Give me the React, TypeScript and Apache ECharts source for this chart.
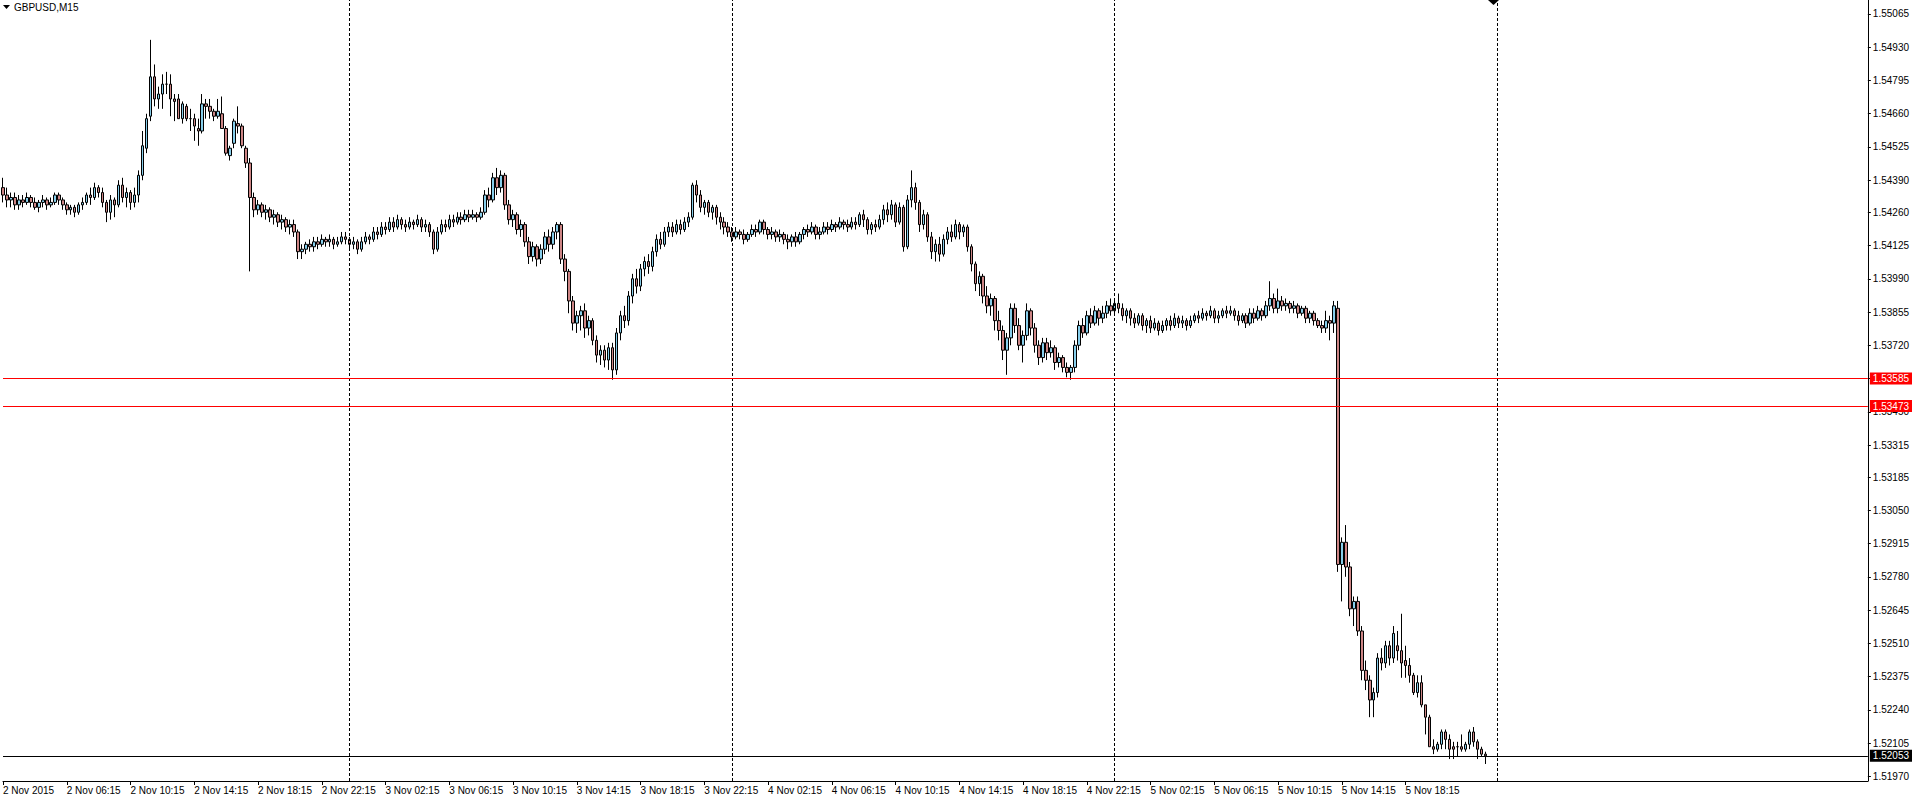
import React, { useEffect, useRef } from "react";
import * as echarts from "echarts";

// ---- DATA ----
// Each candle: [open, close, low, high]
const day1Nov2: number[][] = [
  [1.5436,1.5433,1.5430,1.5440],[1.5433,1.5431,1.5428,1.5436],[1.5431,1.5432,1.5428,1.5434],[1.5432,1.5429,1.5427,1.5434],
  [1.5429,1.5431,1.5427,1.5433],[1.5431,1.5430,1.5428,1.5433],[1.5430,1.5432,1.5429,1.5434],[1.5432,1.5430,1.5428,1.5433],
  [1.5430,1.5428,1.5427,1.5432],[1.5428,1.5430,1.5426,1.5431],[1.5430,1.5431,1.5428,1.5433],[1.5431,1.5429,1.5427,1.5432],
  [1.5429,1.5430,1.5428,1.5432],[1.5430,1.5433,1.5429,1.5434],[1.5433,1.5431,1.5429,1.5434],[1.5431,1.5429,1.5427,1.5432],
  [1.5429,1.5427,1.5425,1.5430],[1.5427,1.5428,1.5425,1.5429],[1.5428,1.5426,1.5424,1.5429],[1.5426,1.5429,1.5425,1.5430],
  [1.5429,1.5430,1.5427,1.5432],[1.5430,1.5433,1.5429,1.5434],[1.5433,1.5432,1.5429,1.5436],[1.5432,1.5436,1.5431,1.5438],
  [1.5436,1.5434,1.5432,1.5437],[1.5434,1.5430,1.5428,1.5436],[1.5430,1.5426,1.5422,1.5431],[1.5426,1.5431,1.5423,1.5433],
  [1.5431,1.5429,1.5424,1.5432],[1.5429,1.5437,1.5428,1.5439],[1.5437,1.5432,1.5430,1.5440],[1.5432,1.5434,1.5428,1.5436],
  [1.5434,1.5430,1.5427,1.5435],[1.5430,1.5433,1.5428,1.5436],[1.5433,1.5441,1.5430,1.5443],[1.5441,1.5453,1.5439,1.5459],
  [1.5452,1.5464,1.5450,1.5466],[1.5465,1.5481,1.5463,1.5496],[1.5481,1.5472,1.5469,1.5486],[1.5472,1.5474,1.5468,1.5477],
  [1.5474,1.5478,1.5468,1.5482],[1.5478,1.5478,1.5474,1.5483],[1.5478,1.5472,1.5465,1.5482],[1.5472,1.5471,1.5463,1.5474],
  [1.5472,1.5464,1.5464,1.5474],[1.5464,1.5470,1.5462,1.5471],[1.5469,1.5464,1.5463,1.5470],[1.5464,1.5464,1.5459,1.5468],
  [1.5464,1.5461,1.5455,1.5466],[1.5460,1.5459,1.5453,1.5464],[1.5459,1.5470,1.5458,1.5474],[1.5470,1.5469,1.5464,1.5472],
  [1.5469,1.5467,1.5464,1.5472],[1.5467,1.5465,1.5463,1.5468],[1.5465,1.5467,1.5464,1.5472],[1.5466,1.5460,1.5460,1.5473],
  [1.5460,1.5450,1.5449,1.5461],[1.5449,1.5452,1.5447,1.5453],[1.5454,1.5463,1.5452,1.5464],[1.5462,1.5461,1.5458,1.5469],
  [1.5461,1.5453,1.5452,1.5462],[1.5452,1.5446,1.5444,1.5453],[1.5446,1.5432,1.5402,1.5448],[1.5432,1.5427,1.5424,1.5434],
  [1.5427,1.5429,1.5425,1.5431],[1.5429,1.5426,1.5424,1.5430],[1.5426,1.5427,1.5423,1.5429],[1.5427,1.5424,1.5422,1.5428],
  [1.5424,1.5425,1.5421,1.5427],[1.5425,1.5422,1.5420,1.5426],[1.5422,1.5423,1.5419,1.5425],[1.5423,1.5420,1.5418,1.5424],
  [1.5420,1.5421,1.5417,1.5423],[1.5421,1.5418,1.5416,1.5423],[1.5418,1.5410,1.5407,1.5419],[1.5410,1.5411,1.5407,1.5413],
  [1.5411,1.5413,1.5409,1.5414],[1.5413,1.5412,1.5410,1.5415],[1.5412,1.5414,1.5410,1.5416],[1.5414,1.5413,1.5411,1.5416],
  [1.5413,1.5415,1.5412,1.5417],[1.5415,1.5414,1.5412,1.5416],[1.5414,1.5415,1.5412,1.5417],[1.5415,1.5413,1.5411,1.5416],
  [1.5413,1.5414,1.5412,1.5416],[1.5414,1.5416,1.5413,1.5418],[1.5416,1.5415,1.5413,1.5418],
];
const day2Nov3: number[][] = [
  [1.5415,1.5413,1.5411,1.5416],[1.5413,1.5414,1.5411,1.5416],[1.5414,1.5411,1.5409,1.5415],[1.5411,1.5414,1.5410,1.5416],
  [1.5414,1.5416,1.5413,1.5418],[1.5416,1.5415,1.5413,1.5417],[1.5415,1.5418,1.5414,1.5420],[1.5418,1.5417,1.5415,1.5420],
  [1.5417,1.5420,1.5416,1.5422],[1.5420,1.5419,1.5417,1.5422],[1.5419,1.5422,1.5418,1.5424],[1.5422,1.5420,1.5418,1.5424],
  [1.5420,1.5423,1.5419,1.5425],[1.5423,1.5421,1.5419,1.5424],[1.5421,1.5420,1.5418,1.5423],[1.5420,1.5422,1.5419,1.5424],
  [1.5422,1.5421,1.5419,1.5423],[1.5421,1.5423,1.5420,1.5425],[1.5423,1.5420,1.5418,1.5424],[1.5420,1.5421,1.5418,1.5423],
  [1.5421,1.5418,1.5416,1.5422],[1.5418,1.5411,1.5409,1.5419],[1.5411,1.5418,1.5410,1.5420],[1.5418,1.5421,1.5417,1.5423],
  [1.5421,1.5420,1.5418,1.5423],[1.5420,1.5423,1.5419,1.5425],[1.5423,1.5422,1.5420,1.5425],[1.5422,1.5424,1.5421,1.5426],
  [1.5424,1.5423,1.5421,1.5426],[1.5423,1.5425,1.5422,1.5427],[1.5425,1.5424,1.5422,1.5427],[1.5424,1.5425,1.5423,1.5427],
  [1.5425,1.5424,1.5422,1.5426],[1.5424,1.5426,1.5423,1.5428],[1.5426,1.5433,1.5425,1.5435],[1.5433,1.5431,1.5428,1.5436],
  [1.5431,1.5440,1.5430,1.5442],[1.5440,1.5436,1.5433,1.5444],[1.5436,1.5441,1.5434,1.5443],[1.5441,1.5429,1.5427,1.5442],
  [1.5429,1.5423,1.5421,1.5431],[1.5423,1.5425,1.5420,1.5427],[1.5425,1.5419,1.5417,1.5426],[1.5419,1.5421,1.5416,1.5423],
  [1.5421,1.5414,1.5412,1.5422],[1.5414,1.5408,1.5405,1.5416],[1.5408,1.5412,1.5406,1.5414],[1.5412,1.5407,1.5404,1.5413],
  [1.5407,1.5411,1.5405,1.5413],[1.5411,1.5416,1.5409,1.5418],[1.5416,1.5413,1.5410,1.5419],[1.5413,1.5418,1.5411,1.5420],
  [1.5418,1.5421,1.5415,1.5422],[1.5421,1.5407,1.5405,1.5422],[1.5407,1.5402,1.5398,1.5409],[1.5402,1.5390,1.5385,1.5403],
  [1.5390,1.5381,1.5378,1.5392],[1.5381,1.5384,1.5377,1.5386],[1.5384,1.5386,1.5378,1.5388],[1.5386,1.5379,1.5375,1.5389],
  [1.5379,1.5382,1.5376,1.5384],[1.5382,1.5374,1.5372,1.5383],[1.5374,1.5368,1.5365,1.5376],[1.5368,1.5370,1.5364,1.5372],
  [1.5370,1.5366,1.5363,1.5372],[1.5366,1.5371,1.5362,1.5373],[1.5371,1.5362,1.5358,1.5373],[1.5362,1.5377,1.5360,1.5379],
  [1.5377,1.5384,1.5374,1.5386],[1.5384,1.5382,1.5379,1.5388],[1.5382,1.5392,1.5380,1.5394],[1.5392,1.5399,1.5389,1.5401],
  [1.5399,1.5396,1.5393,1.5403],[1.5396,1.5403,1.5394,1.5405],[1.5403,1.5406,1.5400,1.5408],[1.5406,1.5404,1.5401,1.5409],
  [1.5404,1.5410,1.5402,1.5412],[1.5410,1.5415,1.5408,1.5417],[1.5415,1.5413,1.5411,1.5418],[1.5413,1.5418,1.5412,1.5420],
  [1.5418,1.5420,1.5416,1.5422],[1.5420,1.5418,1.5416,1.5422],[1.5418,1.5421,1.5417,1.5423],[1.5421,1.5419,1.5417,1.5423],
  [1.5419,1.5422,1.5418,1.5424],[1.5422,1.5424,1.5420,1.5426],[1.5424,1.5437,1.5423,1.5438],[1.5437,1.5433,1.5430,1.5439],
  [1.5433,1.5428,1.5426,1.5435],[1.5428,1.5430,1.5425,1.5431],[1.5430,1.5426,1.5424,1.5431],[1.5426,1.5428,1.5423,1.5429],
  [1.5428,1.5424,1.5421,1.5429],[1.5424,1.5422,1.5419,1.5426],[1.5422,1.5420,1.5417,1.5424],[1.5420,1.5418,1.5416,1.5422],
];
const day3Nov4: number[][] = [
  [1.5418,1.5416,1.5414,1.5420],[1.5416,1.5418,1.5415,1.5420],[1.5418,1.5417,1.5415,1.5419],[1.5417,1.5415,1.5413,1.5419],
  [1.5415,1.5417,1.5414,1.5418],[1.5417,1.5419,1.5416,1.5421],[1.5419,1.5418,1.5416,1.5421],[1.5418,1.5422,1.5417,1.5423],
  [1.5422,1.5419,1.5417,1.5423],[1.5419,1.5417,1.5415,1.5420],[1.5417,1.5418,1.5415,1.5420],[1.5418,1.5416,1.5414,1.5419],
  [1.5416,1.5417,1.5414,1.5419],[1.5417,1.5415,1.5413,1.5418],[1.5415,1.5414,1.5411,1.5417],[1.5414,1.5416,1.5412,1.5417],
  [1.5416,1.5414,1.5412,1.5418],[1.5414,1.5417,1.5413,1.5418],[1.5417,1.5419,1.5415,1.5420],[1.5419,1.5418,1.5416,1.5421],
  [1.5418,1.5420,1.5417,1.5422],[1.5420,1.5417,1.5415,1.5421],[1.5417,1.5418,1.5415,1.5420],[1.5418,1.5420,1.5417,1.5422],
  [1.5420,1.5419,1.5417,1.5422],[1.5419,1.5421,1.5418,1.5423],[1.5421,1.5420,1.5418,1.5422],[1.5420,1.5422,1.5419,1.5424],
  [1.5422,1.5421,1.5419,1.5423],[1.5421,1.5420,1.5418,1.5423],[1.5420,1.5422,1.5419,1.5424],[1.5422,1.5421,1.5419,1.5424],
  [1.5421,1.5425,1.5420,1.5426],[1.5425,1.5423,1.5420,1.5427],[1.5423,1.5419,1.5417,1.5424],[1.5419,1.5421,1.5417,1.5422],
  [1.5421,1.5420,1.5418,1.5423],[1.5420,1.5423,1.5419,1.5425],[1.5423,1.5427,1.5421,1.5429],[1.5427,1.5425,1.5422,1.5430],
  [1.5425,1.5429,1.5423,1.5431],[1.5429,1.5422,1.5420,1.5430],[1.5422,1.5428,1.5421,1.5430],[1.5428,1.5412,1.5410,1.5429],
  [1.5412,1.5431,1.5411,1.5433],[1.5431,1.5436,1.5428,1.5443],[1.5436,1.5430,1.5427,1.5438],[1.5430,1.5421,1.5418,1.5431],
  [1.5421,1.5425,1.5419,1.5427],[1.5425,1.5416,1.5414,1.5426],[1.5416,1.5410,1.5407,1.5418],[1.5410,1.5413,1.5406,1.5415],
  [1.5413,1.5409,1.5406,1.5416],[1.5409,1.5415,1.5408,1.5417],[1.5415,1.5418,1.5413,1.5420],[1.5418,1.5416,1.5414,1.5421],
  [1.5416,1.5421,1.5415,1.5423],[1.5421,1.5418,1.5415,1.5422],[1.5418,1.5420,1.5416,1.5421],[1.5420,1.5412,1.5410,1.5421],
  [1.5412,1.5405,1.5402,1.5413],[1.5405,1.5397,1.5394,1.5406],[1.5397,1.5400,1.5392,1.5402],[1.5400,1.5392,1.5389,1.5401],
  [1.5392,1.5388,1.5385,1.5396],[1.5388,1.5391,1.5384,1.5393],[1.5391,1.5382,1.5378,1.5392],[1.5382,1.5378,1.5374,1.5386],
  [1.5378,1.5370,1.5366,1.5380],[1.5370,1.5375,1.5360,1.5377],[1.5375,1.5387,1.5372,1.5389],[1.5387,1.5380,1.5377,1.5389],
  [1.5380,1.5372,1.5370,1.5383],[1.5372,1.5376,1.5365,1.5378],[1.5376,1.5386,1.5374,1.5389],[1.5386,1.5379,1.5376,1.5387],
  [1.5379,1.5372,1.5369,1.5381],[1.5372,1.5367,1.5364,1.5374],[1.5367,1.5373,1.5365,1.5375],[1.5373,1.5369,1.5366,1.5375],
  [1.5369,1.5371,1.5367,1.5374],[1.5371,1.5365,1.5362,1.5372],[1.5365,1.5367,1.5363,1.5369],[1.5367,1.5363,1.5361,1.5368],
  [1.5363,1.5361,1.5359,1.5365],[1.5361,1.5363,1.5358,1.5364],[1.5363,1.5372,1.5361,1.5374],[1.5372,1.5380,1.5370,1.5382],
  [1.5380,1.5377,1.5375,1.5383],[1.5377,1.5384,1.5376,1.5386],[1.5384,1.5381,1.5379,1.5387],[1.5381,1.5386,1.5380,1.5388],
  [1.5386,1.5383,1.5380,1.5387],[1.5383,1.5385,1.5381,1.5388],[1.5385,1.5388,1.5383,1.5390],[1.5388,1.5386,1.5384,1.5391],
];
const day4Nov5: number[][] = [
  [1.5386,1.5389,1.5384,1.5391],[1.5389,1.5387,1.5385,1.5393],[1.5387,1.5384,1.5382,1.5389],[1.5384,1.5386,1.5381,1.5387],
  [1.5386,1.5383,1.5380,1.5387],[1.5383,1.5381,1.5379,1.5385],[1.5381,1.5384,1.5380,1.5385],[1.5384,1.5380,1.5378,1.5385],
  [1.5380,1.5382,1.5377,1.5383],[1.5382,1.5379,1.5377,1.5384],[1.5379,1.5381,1.5378,1.5383],[1.5381,1.5378,1.5376,1.5382],
  [1.5378,1.5380,1.5377,1.5382],[1.5380,1.5382,1.5378,1.5383],[1.5382,1.5380,1.5378,1.5384],[1.5380,1.5383,1.5379,1.5385],
  [1.5383,1.5381,1.5379,1.5384],[1.5381,1.5382,1.5379,1.5384],[1.5382,1.5380,1.5378,1.5383],[1.5380,1.5382,1.5379,1.5384],
  [1.5382,1.5384,1.5381,1.5385],[1.5384,1.5383,1.5381,1.5386],[1.5383,1.5385,1.5382,1.5387],[1.5385,1.5384,1.5382,1.5386],
  [1.5384,1.5386,1.5383,1.5388],[1.5386,1.5383,1.5381,1.5387],[1.5383,1.5384,1.5381,1.5386],[1.5384,1.5386,1.5383,1.5387],
  [1.5386,1.5385,1.5383,1.5388],[1.5385,1.5386,1.5384,1.5388],[1.5386,1.5384,1.5382,1.5387],[1.5384,1.5382,1.5380,1.5386],
  [1.5382,1.5384,1.5381,1.5385],[1.5384,1.5381,1.5379,1.5385],[1.5381,1.5385,1.5380,1.5387],[1.5385,1.5383,1.5381,1.5387],
  [1.5383,1.5386,1.5382,1.5388],[1.5386,1.5384,1.5382,1.5387],[1.5384,1.5388,1.5383,1.5390],[1.5388,1.5391,1.5386,1.5398],
  [1.5391,1.5387,1.5385,1.5393],[1.5387,1.5390,1.5385,1.5395],[1.5390,1.5388,1.5386,1.5392],[1.5388,1.5389,1.5386,1.5391],
  [1.5389,1.5387,1.5385,1.5390],[1.5387,1.5388,1.5385,1.5390],[1.5388,1.5385,1.5383,1.5389],[1.5385,1.5387,1.5384,1.5388],
  [1.5387,1.5383,1.5381,1.5388],[1.5383,1.5385,1.5381,1.5386],[1.5385,1.5382,1.5380,1.5386],[1.5382,1.5380,1.5379,1.5383],
  [1.5380,1.5379,1.5377,1.5382],[1.5379,1.5382,1.5377,1.5386],[1.5382,1.5381,1.5374,1.5384],[1.5381,1.5388,1.5377,1.5390],
  [1.5387,1.5283,1.5280,1.5390],[1.5283,1.5292,1.5268,1.5294],[1.5292,1.5282,1.5278,1.5299],[1.5282,1.5265,1.5262,1.5284],
  [1.5265,1.5268,1.5258,1.5270],[1.5268,1.5256,1.5254,1.5270],[1.5256,1.5240,1.5236,1.5258],[1.5240,1.5236,1.5232,1.5244],
  [1.5236,1.5228,1.5221,1.5238],[1.5228,1.5231,1.5221,1.5233],[1.5231,1.5245,1.5229,1.5247],[1.5245,1.5243,1.5240,1.5249],
  [1.5243,1.5250,1.5241,1.5252],[1.5250,1.5245,1.5242,1.5252],[1.5245,1.5255,1.5243,1.5258],[1.5250,1.5248,1.5244,1.5256],
  [1.5248,1.5243,1.5237,1.5263],[1.5244,1.5242,1.5237,1.5250],[1.5242,1.5238,1.5235,1.5245],[1.5238,1.5231,1.5230,1.5239],
  [1.5231,1.5235,1.5229,1.5238],[1.5235,1.5226,1.5225,1.5238],[1.5226,1.5221,1.5214,1.5226],[1.5221,1.5209,1.5209,1.5222],
  [1.5209,1.5208,1.5206,1.5212],[1.5208,1.5210,1.5207,1.5211],[1.5210,1.5215,1.5208,1.5216],[1.5215,1.5212,1.5208,1.5216],
  [1.5212,1.5208,1.5204,1.5214],[1.5209,1.5208,1.5204,1.5211],[1.5209,1.5209,1.5205,1.5211],[1.5209,1.5208,1.5207,1.5214],
  [1.5208,1.5210,1.5207,1.5211],[1.5210,1.5215,1.5208,1.5216],[1.5215,1.5211,1.5209,1.5217],[1.5211,1.5208,1.5204,1.5212],
  [1.5208,1.5206,1.5205,1.5209],[1.5206,1.52053,1.5202,1.5207],
];

const xTickLabels = [
  "2 Nov 2015", "2 Nov 06:15", "2 Nov 10:15", "2 Nov 14:15", "2 Nov 18:15", "2 Nov 22:15",
  "3 Nov 02:15", "3 Nov 06:15", "3 Nov 10:15", "3 Nov 14:15", "3 Nov 18:15", "3 Nov 22:15",
  "4 Nov 02:15", "4 Nov 06:15", "4 Nov 10:15", "4 Nov 14:15", "4 Nov 18:15", "4 Nov 22:15",
  "5 Nov 02:15", "5 Nov 06:15", "5 Nov 10:15", "5 Nov 14:15", "5 Nov 18:15", "5 Nov 22:15",
];
const yTickLabels = [
  "1.55065", "1.54930", "1.54795", "1.54660", "1.54525", "1.54390", "1.54260", "1.54125",
  "1.53990", "1.53855", "1.53720", "1.53585", "1.53450", "1.53315", "1.53185", "1.53050",
  "1.52915", "1.52780", "1.52645", "1.52510", "1.52375", "1.52240", "1.52105", "1.51970",
];
const redLevels = [1.53585, 1.53473];
const lastPrice = 1.52053;
const daySeparators = ["3 Nov 00:00", "4 Nov 00:00", "5 Nov 00:00", "6 Nov 00:00"];
const symbolTitle = "GBPUSD,M15";

// ---- BUILD ----
const candles = [...day1Nov2, ...day2Nov3, ...day3Nov4, ...day4Nov5];
const SLOT_COUNT = 469; // M15 slots on the visible time axis
const startMs = Date.UTC(2015, 10, 2, 2, 15);
const pad = (n: number) => (n < 10 ? "0" + n : "" + n);
const categories: string[] = [];
for (let i = 0; i < SLOT_COUNT; i++) {
  const d = new Date(startMs + i * 15 * 60 * 1000);
  categories.push(`${d.getUTCDate()} Nov ${pad(d.getUTCHours())}:${pad(d.getUTCMinutes())}`);
}
const LABEL_EVERY = 16;
const FONT = "Liberation Sans, Arial, sans-serif";

const priceBox = (v: number, bg: string) => ({
  show: true,
  position: "end",
  distance: 2,
  formatter: v.toFixed(5),
  color: "#fff",
  backgroundColor: bg,
  padding: [1, 3, 1, 3],
  fontSize: 10,
  fontFamily: FONT,
});

export default function App() {
  const ref = useRef<HTMLDivElement>(null);
  useEffect(() => {
    if (!ref.current) return;
    const chart = echarts.init(ref.current, null, { renderer: "svg" });
    const tickFn = (i: number) => i % LABEL_EVERY === 0 && i / LABEL_EVERY < xTickLabels.length;
    chart.setOption({
      animation: false,
      backgroundColor: "#ffffff",
      grid: { left: -2, right: 42, top: 0, bottom: 16, containLabel: false },
      xAxis: {
        type: "category",
        data: categories,
        boundaryGap: false,
        axisLine: { show: true, lineStyle: { color: "#000", width: 1 } },
        axisTick: { show: true, interval: tickFn, length: 4, lineStyle: { color: "#000" } },
        axisLabel: {
          show: true,
          interval: tickFn,
          showMinLabel: true,
          showMaxLabel: false,
          align: "left",
          margin: 4,
          color: "#000",
          fontSize: 10,
          fontFamily: FONT,
          formatter: (_v: string, idx: number) =>
            idx % LABEL_EVERY === 0 ? xTickLabels[idx / LABEL_EVERY] ?? "" : "",
        },
        splitLine: { show: false },
      },
      yAxis: {
        type: "value",
        position: "right",
        min: 1.519509,
        max: 1.551218,
        axisLine: { show: true, lineStyle: { color: "#000", width: 1 } },
        axisTick: { show: true, length: 3, customValues: yTickLabels.map(Number), lineStyle: { color: "#000" } },
        axisLabel: {
          show: true,
          customValues: yTickLabels.map(Number),
          margin: 5,
          color: "#000",
          fontSize: 10,
          fontFamily: FONT,
          formatter: (v: number) => v.toFixed(5),
        },
        splitLine: { show: false },
      },
      graphic: [
        { type: "polygon", shape: { points: [[3, 5], [10, 5], [6.5, 9]] }, style: { fill: "#000" } },
        {
          type: "text",
          x: 14,
          y: 2,
          style: { text: symbolTitle, fill: "#000", font: `10px ${FONT}` },
        },
        { type: "polygon", shape: { points: [[1488, 0], [1499, 0], [1493.5, 5]] }, style: { fill: "#000" } },
      ],
      series: [
        {
          type: "line",
          data: [],
          silent: true,
          markLine: {
            silent: true,
            precision: 5,
            symbol: ["none", "none"],
            animation: false,
            data: [
              ...daySeparators.map((c) => ({
                xAxis: c,
                lineStyle: { color: "#000", width: 1, type: [3, 2] },
                label: { show: false },
              })),
              ...redLevels.map((v) => ({
                yAxis: v,
                lineStyle: { color: "#ff0000", width: 1, type: "solid" },
                label: priceBox(v, "#ff0000"),
              })),
              {
                yAxis: lastPrice,
                lineStyle: { color: "#000", width: 1, type: "solid" },
                label: priceBox(lastPrice, "#000"),
              },
            ],
          },
        },
        {
          type: "candlestick",
          data: candles,
          barWidth: 3,
          z: 3,
          itemStyle: {
            color: "#87CEEB",
            color0: "#CD8585",
            borderColor: "#000",
            borderColor0: "#000",
            borderColorDoji: "#000",
            borderWidth: 1,
          },
        },
      ],
    });
    return () => chart.dispose();
  }, []);
  return (
    <div
      ref={ref}
      style={{ position: "absolute", left: 0, top: 0, width: 1912, height: 797, background: "#fff" }}
    />
  );
}
